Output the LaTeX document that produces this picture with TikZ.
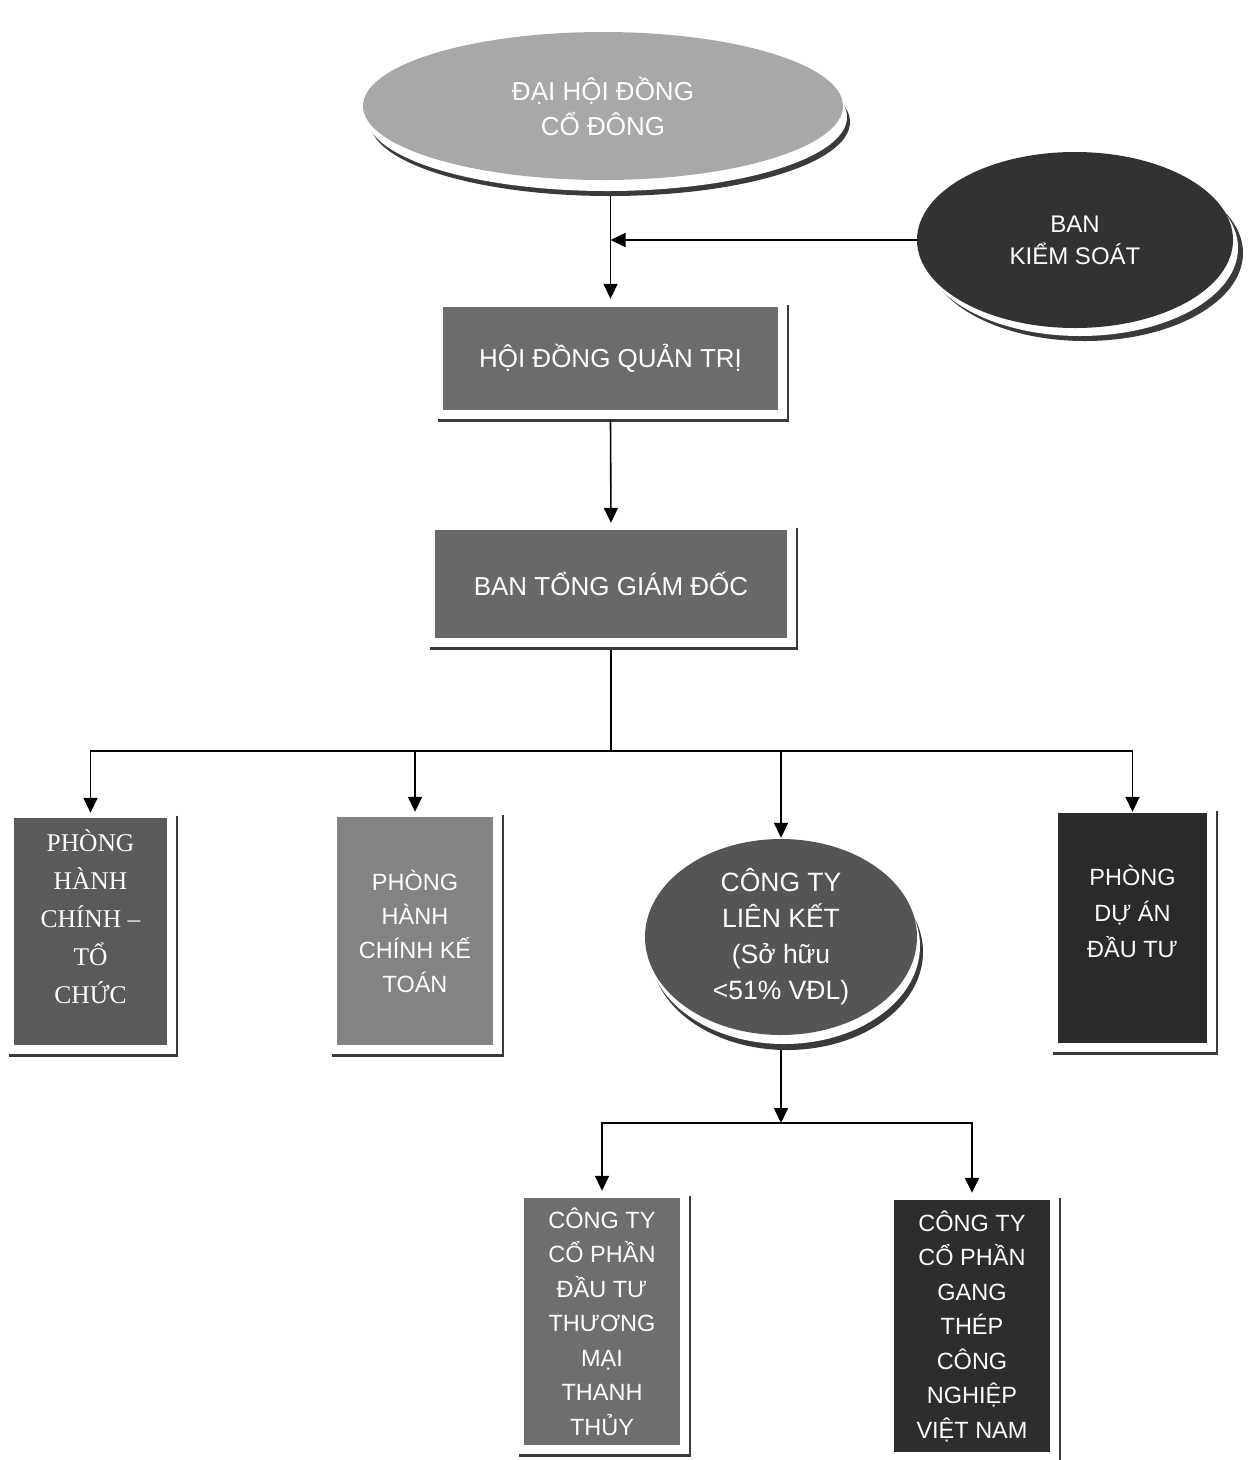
\documentclass[tikz,border=0pt]{standalone}
\usepackage{fontspec}
\setmainfont{Liberation Sans}
\newfontfamily\tnr{Liberation Serif}
\usetikzlibrary{shapes.geometric,arrows.meta,shadows}
\definecolor{gDH}{HTML}{A8A8A8}
\definecolor{gKS}{HTML}{323232}
\definecolor{gHD}{HTML}{6C6C6C}
\definecolor{gBT}{HTML}{686868}
\definecolor{gBa}{HTML}{5A5A5A}
\definecolor{gBb}{HTML}{838383}
\definecolor{gLK}{HTML}{555555}
\definecolor{gBd}{HTML}{2A2A2A}
\definecolor{gBe}{HTML}{6E6E6E}
\definecolor{gBf}{HTML}{2D2D2D}
\definecolor{shd}{HTML}{3A3A3A}
\begin{document}
\begin{tikzpicture}[x=1pt,y=-1pt,
  boxnode/.style={rectangle, draw=none, inner sep=0pt, text=white, align=center},
  ellnode/.style={ellipse, draw=none, inner sep=0pt, text=white, align=center},
  txtnode/.style={inner sep=0pt, text=white, align=center},
  arr/.style={draw=black, line width=1.6pt, -{Triangle[length=15pt,width=14pt]}},
  lin/.style={draw=black, line width=1.6pt},
  shr/.style={draw=shd, line width=1.5pt},
  shb/.style={draw=shd, line width=3pt},
]
\useasboundingbox[fill=white] (0,0) rectangle (1253,1460);

% ellipses
\node[ellnode, fill=gDH, minimum width=480pt, minimum height=148pt,
  general shadow={shadow xshift=7pt, shadow yshift=-16pt, fill=shd},
  general shadow={shadow xshift=4pt, shadow yshift=-11pt, fill=white},
  font=\fontsize{26}{35}\selectfont] (dhd) at (603,106) {ĐẠI HỘI ĐỒNG\\CỔ ĐÔNG};

\node[ellnode, fill=gKS, minimum width=316pt, minimum height=176pt,
  general shadow={shadow xshift=10pt, shadow yshift=-13pt, fill=shd},
  general shadow={shadow xshift=5pt, shadow yshift=-8pt, fill=white},
  font=\fontsize{24}{32}\selectfont] (bks) at (1075,240) {BAN\\KIỂM SOÁT};

\node[ellnode, fill=gLK, minimum width=272pt, minimum height=196pt,
  general shadow={shadow xshift=6pt, shadow yshift=-15pt, fill=shd},
  general shadow={shadow xshift=3pt, shadow yshift=-9pt, fill=white},
  font=\fontsize{26.5}{36}\selectfont] (ctlk) at (781,937) {CÔNG TY\\LIÊN KẾT\\(Sở hữu\\<51\% VĐL)};

% boxes
\node[boxnode, fill=gHD, minimum width=335pt, minimum height=103pt,
  font=\fontsize{26}{30}\selectfont] (hdqt) at (610.5,358.5) {HỘI ĐỒNG QUẢN TRỊ};
\node[boxnode, fill=gBT, minimum width=352pt, minimum height=108pt,
  font=\fontsize{26}{30}\selectfont] (btgd) at (611,584) {BAN TỔNG GIÁM ĐỐC};
\node[boxnode, fill=gBa, minimum width=153pt, minimum height=227pt] (b1) at (90.5,931.5) {};
\node[txtnode, font=\tnr\fontsize{25.5}{38}\selectfont] (b1t) at (90.5,917) {PHÒNG\\HÀNH\\CHÍNH –\\TỔ\\CHỨC};
\node[boxnode, fill=gBb, minimum width=156pt, minimum height=228pt,
  font=\fontsize{23.5}{34}\selectfont] (b2) at (415,931) {PHÒNG\\HÀNH\\CHÍNH KẾ\\TOÁN};
\node[boxnode, fill=gBd, minimum width=149pt, minimum height=230pt] (b4) at (1132.5,928) {};
\node[txtnode, font=\fontsize{23.5}{36}\selectfont] (b4t) at (1132.5,911) {PHÒNG\\DỰ ÁN\\ĐẦU TƯ};
\node[boxnode, fill=gBe, minimum width=156pt, minimum height=247pt,
  font=\fontsize{23.5}{34.5}\selectfont] (b5) at (602,1321.5) {CÔNG TY\\CỔ PHẦN\\ĐẦU TƯ\\THƯƠNG\\MẠI\\THANH\\THỦY};
\node[boxnode, fill=gBf, minimum width=156pt, minimum height=252pt,
  font=\fontsize{23.5}{34.5}\selectfont] (b6) at (972,1326) {CÔNG TY\\CỔ PHẦN\\GANG\\THÉP\\CÔNG\\NGHIỆP\\VIỆT NAM};

% box shadows
\foreach \n in {hdqt,btgd,b1,b2,b4,b5,b6}{
  \draw[shr] ([xshift=10pt,yshift=2pt]\n.north east) -- ([xshift=10pt,yshift=-11pt]\n.south east);
  \draw[shb] ([xshift=-5pt,yshift=-10pt]\n.south west) -- ([xshift=10.75pt,yshift=-10pt]\n.south east);
}

% connectors
\draw[arr, shorten >=8pt] ([yshift=-16pt]dhd.south -| hdqt.north) -- (hdqt.north);
\draw[arr] (bks.west) -- (bks.west -| hdqt.north);
\draw[arr, shorten >=7pt] ([yshift=-10pt]hdqt.south) -- (btgd.north);
\coordinate (bus) at (611,751);
\draw[lin] ([yshift=-12pt]btgd.south) -- (bus);
\draw[arr, shorten >=5pt] (bus) -| (b1.north);
\draw[arr, shorten >=1pt] (bus) -| (b4.north);
\draw[arr, shorten >=5pt] (bus -| b2.north) -- (b2.north);
\draw[arr, shorten >=1pt] (bus -| ctlk.north) -- (ctlk.north);
\coordinate (bus2) at (781,1123);
\draw[arr] ([yshift=-15pt]ctlk.south) -- (bus2);
\draw[arr, shorten >=7pt] (bus2) -| (b5.north);
\draw[arr, shorten >=7pt] (bus2) -| (b6.north);
\end{tikzpicture}
\end{document}
